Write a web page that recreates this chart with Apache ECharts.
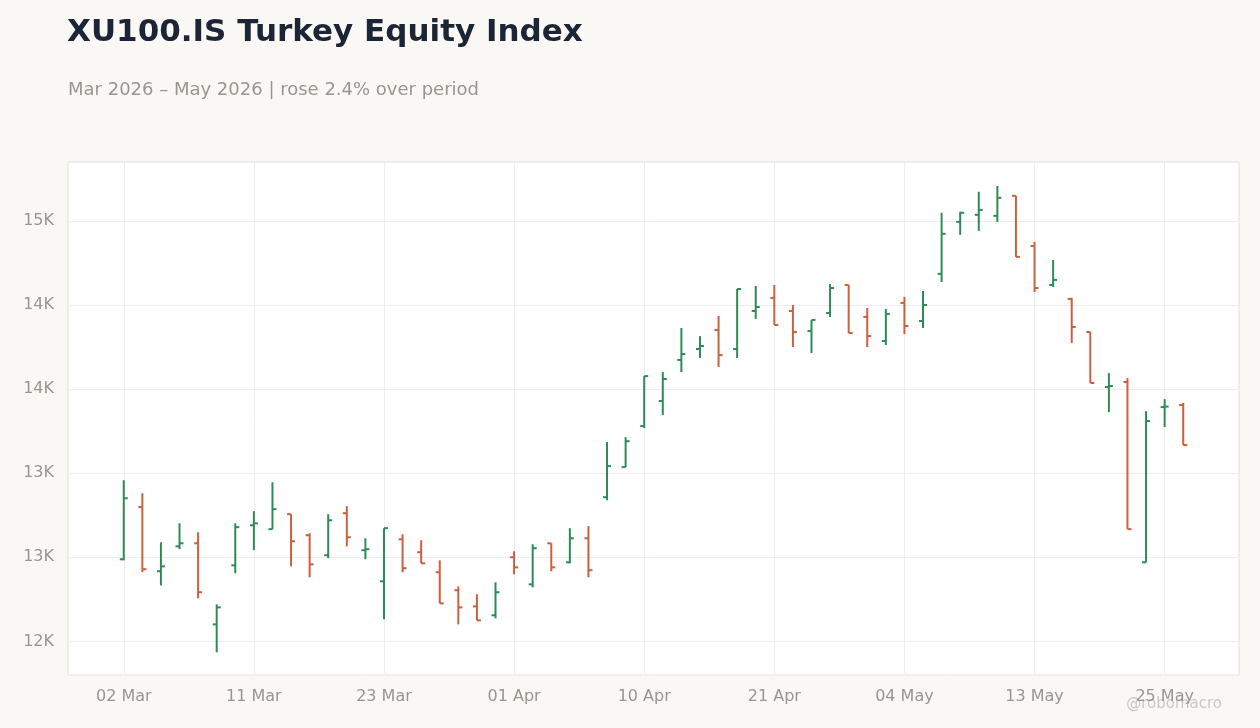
<!DOCTYPE html>
<html><head><meta charset="utf-8">
<script src="https://cdn.jsdelivr.net/npm/echarts@6/dist/echarts.min.js"></script>
<style>html,body{margin:0;background:#f9f8f5}#c{width:1260px;height:728px}</style>
</head><body><div id="c"></div>
<script>
const dates=["02 Mar","03 Mar","04 Mar","05 Mar","06 Mar","09 Mar","10 Mar","11 Mar","12 Mar","13 Mar","16 Mar","17 Mar","18 Mar","19 Mar","23 Mar","24 Mar","25 Mar","26 Mar","27 Mar","30 Mar","31 Mar","01 Apr","02 Apr","03 Apr","06 Apr","07 Apr","08 Apr","09 Apr","10 Apr","13 Apr","14 Apr","15 Apr","16 Apr","17 Apr","20 Apr","21 Apr","22 Apr","24 Apr","27 Apr","28 Apr","29 Apr","30 Apr","04 May","05 May","06 May","07 May","08 May","11 May","12 May","13 May","14 May","15 May","18 May","20 May","21 May","22 May","25 May","26 May"];
const open=[12488,12798,12417,12565,12583,12101,12452,12690,12667,12756,12631,12512,12762,12542,12357,12607,12530,12411,12304,12208,12155,12500,12339,12583,12470,12613,12857,13036,13280,13429,13673,13738,13851,13738,13964,14042,13964,13845,13952,14119,13929,13786,14012,13905,14185,14494,14536,14530,14649,14351,14119,14036,13839,13512,13542,12470,13393,13405];
const high=[12958,12881,12589,12702,12649,12220,12702,12774,12946,12756,12643,12756,12804,12613,12673,12637,12601,12482,12327,12280,12351,12536,12577,12583,12673,12685,13185,13214,13577,13601,13863,13815,13935,14095,14113,14119,14000,13911,14125,14119,13982,13976,14048,14083,14548,14554,14673,14708,14649,14375,14268,14042,13839,13595,13565,13369,13440,13417];
const low=[12482,12411,12333,12548,12256,11935,12405,12542,12667,12446,12381,12494,12565,12488,12131,12411,12464,12226,12101,12125,12137,12399,12321,12417,12464,12381,12839,13036,13268,13345,13601,13685,13631,13685,13917,13881,13750,13714,13929,13833,13750,13762,13827,13863,14137,14417,14440,14494,14286,14077,14107,13774,13536,13363,12667,12470,13274,13167];
const close=[12851,12429,12446,12583,12292,12202,12679,12702,12786,12595,12458,12720,12619,12548,12673,12435,12464,12226,12202,12125,12292,12440,12554,12440,12613,12423,13042,13190,13577,13560,13708,13756,13702,14095,13988,13881,13839,13911,14101,13833,13815,13946,13875,14000,14423,14548,14565,14637,14286,14101,14149,13869,13536,13518,12667,13310,13396,13167];
const PAD=3;
const cats=[...Array(PAD).fill(''),...dates,...Array(PAD).fill('')];
const data=dates.map((d,i)=>[i+PAD,open[i],close[i],low[i],high[i]]);
const GREEN='#2e8b57',RED='#cd5f3f';
const FONT='DejaVu Sans';
const chart=echarts.init(document.getElementById('c'));
const showIdx=(i)=>i>=PAD&&i<PAD+dates.length&&(i-PAD)%7===0;
chart.setOption({
 backgroundColor:'#f9f8f5',
 title:[{text:'XU100.IS Turkey Equity Index',left:62,top:12,textStyle:{fontFamily:FONT,fontSize:31,fontWeight:'bold',color:'#1c2536'}},
  {text:'Mar 2026 – May 2026 | rose 2.4% over period',left:63,top:76,textStyle:{fontFamily:FONT,fontSize:18,fontWeight:'normal',color:'#999690'}}],
 graphic:[{type:'text',right:38,top:697,style:{text:'@robomacro',fill:'#c8c8c8',font:'15px DejaVu Sans'}}],
 grid:{left:68,right:21,top:162,bottom:53,show:true,backgroundColor:'#fff',borderColor:'#e2e0dc',borderWidth:1},
 xAxis:{type:'category',data:cats,boundaryGap:false,
  axisLine:{show:false},axisTick:{show:false},
  axisLabel:{interval:(i)=>showIdx(i),color:'#999690',fontSize:16,margin:14,fontFamily:FONT},
  splitLine:{show:true,interval:(i)=>showIdx(i),lineStyle:{color:'#eeeeee'}}},
 yAxis:{type:'value',min:11800,max:14850,splitNumber:6,
  axisLine:{show:false},axisTick:{show:false},
  axisLabel:{showMinLabel:false,showMaxLabel:false,formatter:v=>(v/1000).toFixed(0)+'K',color:'#999690',fontSize:16,margin:14,fontFamily:FONT},
  splitLine:{lineStyle:{color:'#eeeeee'}}},
 series:[{type:'custom',data:data,encode:{x:0,y:[1,2,3,4]},
  renderItem:(params,api)=>{
   const x=api.value(0);
   const o=api.coord([x,api.value(1)]),c=api.coord([x,api.value(2)]);
   const l=api.coord([x,api.value(3)]),h=api.coord([x,api.value(4)]);
   const col=api.value(2)>=api.value(1)?GREEN:RED;
   const st={stroke:col,lineWidth:2};
   return {type:'group',children:[
    {type:'line',shape:{x1:o[0],y1:h[1],x2:o[0],y2:l[1]},style:st},
    {type:'line',shape:{x1:o[0]-4,y1:o[1],x2:o[0],y2:o[1]},style:st},
    {type:'line',shape:{x1:o[0],y1:c[1],x2:o[0]+4,y2:c[1]},style:st}]};
  }}]
});
</script></body></html>
